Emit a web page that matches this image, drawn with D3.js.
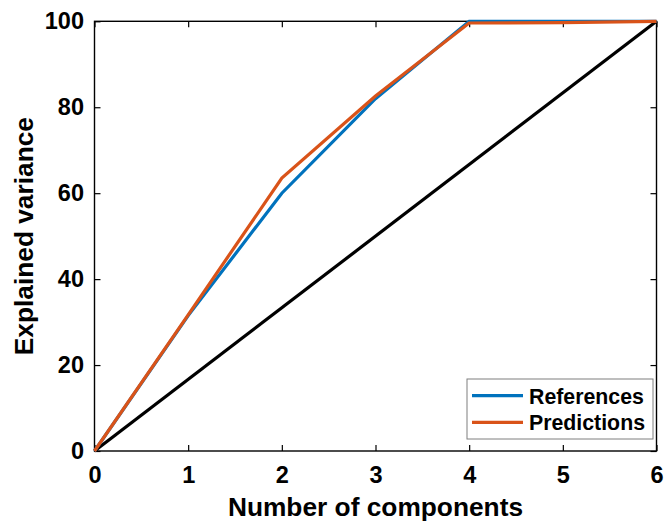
<!DOCTYPE html>
<html>
<head>
<meta charset="utf-8">
<script src="https://cdn.jsdelivr.net/npm/d3@7"></script>
<style>
  html, body { margin: 0; padding: 0; background: #fff; }
  svg { display: block; font-family: Arial, "Liberation Sans", sans-serif; font-weight: bold; }
</style>
</head>
<body>
<svg id="chart" width="665" height="523"></svg>
<script>
// Cumulative explained variance per number of components
const components = [0, 1, 2, 3, 4, 5, 6];
const references = [0, 31.5, 60.0, 82.0, 100, 100, 100];
const predictions = [0, 31.7, 63.5, 82.6, 99.6, 99.7, 100];
const diagonal = [0, 100];
const diagonalX = [0, 6];
const xTicks = [0, 1, 2, 3, 4, 5, 6];
const yTicks = [0, 20, 40, 60, 80, 100];

const svg = d3.select("#chart");
const plotLeft = 94.5, plotRight = 656.5, plotTop = 21.3, plotBottom = 451;
const font = "Arial, 'Liberation Sans', sans-serif";

const x = d3.scaleLinear().domain([0, 6]).range([plotLeft, plotRight]);
const y = d3.scaleLinear().domain([0, 100]).range([plotBottom, plotTop]);

const tickLen = 6;

// Axes with inward ticks (bottom/left labelled, top/right bare)
const gx = svg.append("g").attr("transform", `translate(0,${plotBottom})`)
  .call(d3.axisBottom(x).tickValues(xTicks).tickFormat(d3.format("d")).tickSizeInner(-tickLen).tickSizeOuter(0).tickPadding(15));
const gy = svg.append("g").attr("transform", `translate(${plotLeft},0)`)
  .call(d3.axisLeft(y).tickValues(yTicks).tickFormat(d3.format("d")).tickSizeInner(-tickLen).tickSizeOuter(0).tickPadding(10.5));
const gxt = svg.append("g").attr("transform", `translate(0,${plotTop})`)
  .call(d3.axisTop(x).tickValues(xTicks).tickFormat("").tickSizeInner(-tickLen).tickSizeOuter(0));
const gyr = svg.append("g").attr("transform", `translate(${plotRight},0)`)
  .call(d3.axisRight(y).tickValues(yTicks).tickFormat("").tickSizeInner(-tickLen).tickSizeOuter(0));

[gx, gy, gxt, gyr].forEach(g => {
  g.select(".domain").remove();
  g.selectAll(".tick line").attr("stroke", "#000").attr("stroke-width", 1.2);
  g.selectAll("text").attr("fill", "#000").style("font-size", "23.5px").style("font-weight", "bold")
    .style("font-family", font);
});

// Box
svg.append("rect").attr("x", plotLeft).attr("y", plotTop).attr("width", plotRight - plotLeft).attr("height", plotBottom - plotTop)
  .attr("fill", "none").attr("stroke", "#000").attr("stroke-width", 1.4);

const line = d3.line().x(d => x(d[0])).y(d => y(d[1]));

// Diagonal reference line
svg.append("path").datum(d3.zip(diagonalX, diagonal)).attr("d", line)
  .attr("fill", "none").attr("stroke", "#000").attr("stroke-width", 3.2);

svg.append("path").datum(d3.zip(components, references)).attr("d", line)
  .attr("fill", "none").attr("stroke", "#0072BD").attr("stroke-width", 3.2).attr("stroke-linejoin", "miter");
svg.append("path").datum(d3.zip(components, predictions)).attr("d", line)
  .attr("fill", "none").attr("stroke", "#D95319").attr("stroke-width", 3.2).attr("stroke-linejoin", "miter");

// Axis titles
svg.append("text").attr("x", (plotLeft + plotRight) / 2).attr("y", 516).attr("text-anchor", "middle")
  .style("font-size", "26.3px").attr("fill", "#000").text("Number of components");
svg.append("text").attr("transform", `translate(33,${(plotTop + plotBottom) / 2}) rotate(-90)`).attr("text-anchor", "middle")
  .style("font-size", "26.3px").attr("fill", "#000").text("Explained variance");

// Legend
const legend = svg.append("g");
legend.append("rect").attr("x", 467).attr("y", 379).attr("width", 186).attr("height", 60)
  .attr("fill", "#fff").attr("stroke", "#7f7f7f").attr("stroke-width", 1);
const entries = [["References", "#0072BD"], ["Predictions", "#D95319"]];
entries.forEach(([name, color], i) => {
  const cy = 395.7 + i * 26.6;
  legend.append("line").attr("x1", 472).attr("x2", 523).attr("y1", cy).attr("y2", cy)
    .attr("stroke", color).attr("stroke-width", 3.2);
  legend.append("text").attr("x", 529).attr("y", cy + 7.8).style("font-size", "21.3px").attr("fill", "#000").text(name);
});
</script>
</body>
</html>
